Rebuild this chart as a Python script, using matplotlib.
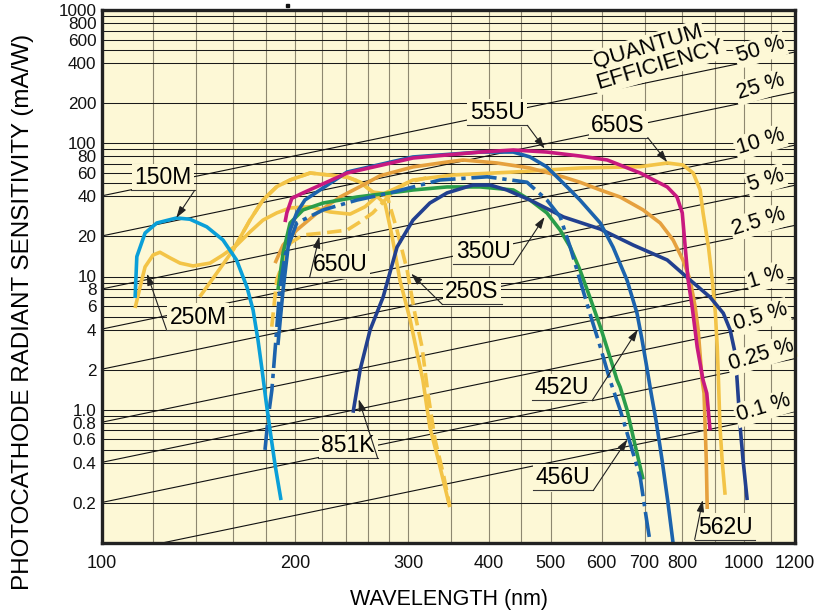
import matplotlib
matplotlib.use("Agg")
import matplotlib.pyplot as plt
from matplotlib.patches import Rectangle

plt.rcParams['font.family'] = ['Liberation Sans', 'DejaVu Sans']

BG = '#fdf8d6'

# ---- axis ticks / grid ----
x_ticks = [100, 200, 300, 400, 500, 600, 700, 800, 1000, 1200]
y_ticks = [1000, 800, 600, 400, 200, 100, 80, 60, 40, 20, 10, 8, 6, 4, 2,
           1, 0.8, 0.6, 0.4, 0.2]
y_tick_labels = ['1000', '800', '600', '400', '200', '100', '80', '60', '40',
                 '20', '10', '8', '6', '4', '2', '1.0', '0.8', '0.6', '0.4', '0.2']
x_grid = [120, 140, 160, 180, 200, 220, 240, 260, 280, 300, 350, 400, 450,
          500, 600, 700, 800, 900, 1000, 1100]
y_grid = [m * d for d in (0.1, 1, 10, 100) for m in (1, 2, 4, 5, 6, 7, 8, 9)] + [1000]

# ---- quantum-efficiency reference lines (percent) ----
qe_levels = [50, 25, 10, 5, 2.5, 1, 0.5, 0.25, 0.1]
qe_labels = ['50 %', '25 %', '10 %', '5 %', '2.5 %', '1 %', '0.5 %', '0.25 %', '0.1 %']

# ---- spectral response curves: wavelength (nm), sensitivity (mA/W) ----
wl_150M = [112.6, 113.3, 116.7, 121.7, 130.7, 137.1, 145.6, 154.3, 162.0, 168.2,
           171.9, 175.0, 177.5, 180.0, 182.7, 186.0, 190.0]
s_150M = [6.9, 14.1, 21.2, 25.2, 27.5, 26.9, 23.6, 18.8, 13.3, 8.3,
          5.6, 3.3, 2.0, 1.18, 0.70, 0.385, 0.21]

wl_250M = [112.6, 114.6, 116.7, 120.1, 123.1, 127.6, 132.3, 138.6, 147.3, 154.3,
           162.1, 170, 178.1, 187.1, 196.3, 210.9, 226.5, 243.4, 256.9, 268,
           276, 283, 291, 302, 309.5, 316, 324, 334, 348]
s_250M = [5.8, 8.3, 11.8, 14.5, 15.2, 13.8, 12.6, 12.0, 12.6, 14.5,
          17.2, 21.6, 26.5, 30, 32.7, 33.4, 30.5, 29.4, 33.4, 40,
          35, 20, 9.4, 4.7, 2.67, 1.67, 0.74, 0.42, 0.186]

wl_250S = [160, 170, 178.1, 187.1, 196.3, 210.9, 240.8, 252.3,
           264, 278, 288, 298.6, 307, 315, 322, 330, 340, 348]
s_250S = [15.8, 26.5, 37.5, 47.2, 53, 59.8, 55.8, 51.2,
          43, 40, 22.3, 11.2, 5.3, 2.96, 1.3, 0.6, 0.33, 0.19]

wl_650S = [142, 150.9, 160, 170, 178.1, 187.1, 196.3, 210.9, 240.8, 252.3,
           264, 275, 287, 305, 352, 437, 555, 689, 759, 803,
           833, 854, 863, 880, 892, 902, 908, 912, 917, 924, 934]
s_650S = [7.05, 10.6, 15.8, 26.5, 37.5, 47.2, 53, 59.8, 55.8, 51.2,
          43, 42, 46, 53, 57.8, 60.8, 65.2, 66.7, 71.1, 68.7,
          59.8, 44.6, 30, 16.6, 9.4, 5.3, 2.96, 1.67, 0.74, 0.42, 0.23]

wl_650U = [183.8, 187.1, 196.3, 205.6, 221, 240.8, 252, 264, 276, 286, 300, 320]
s_650U = [4.2, 9.4, 17.8, 20.5, 21.2, 22.3, 25.6, 30, 37.5, 44.6, 51, 55]

wl_555U = [192.8, 194, 197.5, 205.6, 240.8, 305, 388, 437, 493, 555,
           612, 689, 759, 786, 801, 809.5, 818, 830, 845, 863, 874.6, 885]
s_555U = [25.6, 30, 38.6, 42.4, 59.8, 77.5, 85.9, 89, 85.9, 80.2,
          74.9, 59.8, 47, 39.5, 30, 16.6, 9.4, 5.9, 2.96, 1.67, 1.33, 0.70]

wl_452U = [187.9, 191.4, 196.3, 201, 207, 240.8, 305, 388, 437, 464,
           493, 530, 555, 597, 625, 657, 681, 693, 704, 716, 730, 745, 760, 775]
s_452U = [3.06, 7.9, 22.3, 30, 37.5, 60.8, 78.9, 85.9, 85.9, 78.9,
          66.4, 47, 37.5, 25.2, 16.6, 9.4, 5.3, 3.4, 2.2, 1.35, 0.8, 0.42, 0.21, 0.1]

wl_456U = [179.4, 181.3, 183.9, 186.5, 189.1, 192.8, 201, 221, 249.6, 281,
           336, 398, 459, 493, 517, 536, 555, 575, 597, 618, 641, 664.5, 689, 701, 714]
s_456U = [0.5, 0.84, 1.41, 3.3, 7.9, 14.5, 25.2, 31.6, 37.5, 42.4,
          53, 56, 51, 37.5, 28, 16.6, 9.4, 5.3, 2.96, 1.67, 1.0, 0.56, 0.31, 0.177, 0.1]

wl_350U = [187.9, 191.4, 196.3, 205.6, 221, 249.6, 281, 305, 344.6, 388,
           437, 464, 493, 517, 536, 555, 575, 597, 618, 634, 641, 657, 672, 689, 696]
s_350U = [7.9, 15, 25.2, 31.6, 35.6, 39.5, 42.4, 44.6, 47, 47,
          44.6, 37.5, 30, 22.3, 16.6, 11.2, 7.0, 4.2, 2.49, 1.67, 1.48, 1.0, 0.62, 0.37, 0.30]

wl_851K = [246, 252.3, 261.5, 274, 288, 305, 324, 344.6, 378, 402,
           427, 464, 523, 597, 672, 759, 824, 885, 928, 951,
           968, 975, 986, 996, 1011]
s_851K = [0.95, 1.99, 3.97, 7.0, 16.6, 26.5, 35.6, 42.4, 48.6, 48.6,
          44.6, 37.5, 28, 22.7, 17.2, 13.3, 9.4, 7.0, 5.3, 3.97,
          2.67, 1.67, 0.74, 0.42, 0.21]

wl_562U = [186, 191.4, 201, 216.3, 234.8, 255, 271, 305, 344.6, 365,
           412, 464, 523, 555, 597, 641, 696, 740, 775, 803,
           824, 839, 848, 860, 866, 873, 876]
s_562U = [12.6, 17.2, 22.3, 30, 39.5, 48.6, 57, 66.4, 72.3, 74.9,
          71.1, 65.2, 55.8, 51, 44.6, 39.5, 31.6, 25.2, 18.8, 13.3,
          9.4, 5.9, 3.97, 1.67, 1.33, 0.42, 0.18]

YELLOW = '#f3c447'
ORANGE = '#e6a13e'
MAGENTA = '#c8197f'
BLUE = '#1c63ad'
NAVY = '#22408f'
GREEN = '#2a9d4a'
CYAN = '#0a9fd8'

DASHED = (4.0, 1.8)
DASHDOT = (7.0, 1.6, 1.2, 1.6)

curves = [
    (wl_250M, s_250M, YELLOW, None),
    (wl_650S, s_650S, YELLOW, None),
    (wl_250S, s_250S, YELLOW, DASHED),
    (wl_650U, s_650U, YELLOW, DASHED),
    (wl_562U, s_562U, ORANGE, None),
    (wl_350U, s_350U, GREEN, None),
    (wl_851K, s_851K, NAVY, None),
    (wl_452U, s_452U, BLUE, None),
    (wl_456U, s_456U, BLUE, DASHDOT),
    (wl_555U, s_555U, MAGENTA, None),
    (wl_150M, s_150M, CYAN, None),
]

# label text, text centre (axes fraction), arrow tip (nm, mA/W), leader side
curve_labels = [
    ('150M', (0.088, 0.685), (130.5, 27.5), 'right'),
    ('250M', (0.1385, 0.424), (117.5, 10.5), 'left'),
    ('650U', (0.3434, 0.5216), (218, 20.0), 'left'),
    ('555U', (0.570, 0.807), (489, 91), 'right'),
    ('650S', (0.7446, 0.784), (759, 72), 'right'),
    ('350U', (0.5498, 0.546), (489, 28), 'right'),
    ('250S', (0.534, 0.471), (303, 10.5), 'left'),
    ('452U', (0.6638, 0.291), (683, 4.0), 'right'),
    ('456U', (0.6652, 0.122), (658, 0.6), 'right'),
    ('562U', (0.899, 0.030), (862, 0.21), 'left'),
    ('851K', (0.355, 0.182), (251, 1.2), 'right'),
]

# QE label centres (axes fraction)
qe_label_pos = [(0.9500, 0.925), (0.9500, 0.8555), (0.9500, 0.7523),
                (0.958, 0.681), (0.9475, 0.6023), (0.958, 0.499),
                (0.950, 0.424), (0.951, 0.3527), (0.9545, 0.2533)]

fig = plt.figure(figsize=(8.17, 6.15), dpi=100)
ax = fig.add_axes([102 / 817, 1 - 543 / 615, 693 / 817, 533 / 615])
ax.set_facecolor(BG)
ax.set_xscale('log')
ax.set_yscale('log')
ax.set_xlim(100, 1200)
ax.set_ylim(0.1, 1000)

for xv in x_grid:
    ax.axvline(xv, color='#8e8870', lw=0.8, zorder=0.5)
for yv in y_grid:
    ax.axhline(yv, color='#1a1a1a', lw=0.75, zorder=0.5)

wl_line = [100, 1200]
for q in qe_levels:
    ax.plot(wl_line, [q / 100 * w / 1239.84 * 1000 for w in wl_line],
            color='#111111', lw=0.8, zorder=1)

for wl, s, col, dash in curves:
    line, = ax.plot(wl, s, color=col, lw=2.6, zorder=3,
                    solid_joinstyle='round', solid_capstyle='butt')
    if dash is not None:
        line.set_dashes(dash)

ax.set_xticks(x_ticks)
ax.set_xticklabels([str(v) for v in x_ticks])
ax.set_yticks(y_ticks)
ax.set_yticklabels(y_tick_labels)
ax.minorticks_off()
ax.tick_params(axis='both', length=0, labelsize=13, colors='#111111')
ax.tick_params(axis='y', labelsize=12.3, pad=4)
ax.tick_params(axis='x', pad=9)
for sp in ax.spines.values():
    sp.set_linewidth(2.4)
    sp.set_color('#222222')
    sp.set_zorder(10)

ax.set_xlabel('WAVELENGTH (nm)', fontsize=15.5, labelpad=12)
fig.text(0.028, 0.492, 'PHOTOCATHODE RADIANT SENSITIVITY (mA/W)', rotation=90,
         fontsize=17.4, ha='center', va='center')

box = dict(boxstyle='square,pad=0.12', fc=BG, ec='none')

texts = []
for name, pos, tip, side in curve_labels:
    t = ax.text(pos[0], pos[1], name, transform=ax.transAxes, fontsize=16.5,
                ha='center', va='center', bbox=box, zorder=6)
    texts.append((t, tip, side))

qe_box = dict(boxstyle='square,pad=0.08', fc=BG, ec='none')
for lab, pos in zip(qe_labels, qe_label_pos):
    ax.text(pos[0], pos[1], lab, transform=ax.transAxes, fontsize=15.5,
            rotation=17, rotation_mode='anchor', ha='center', va='center',
            bbox=qe_box, zorder=6)
ax.text(0.788, 0.9306, 'QUANTUM', transform=ax.transAxes, fontsize=16,
        rotation=16.5, rotation_mode='anchor', ha='center', va='center',
        bbox=qe_box, zorder=6)
ax.text(0.805, 0.8968, 'EFFICIENCY', transform=ax.transAxes, fontsize=16,
        rotation=16.5, rotation_mode='anchor', ha='center', va='center',
        bbox=qe_box, zorder=6)

# underline each curve label and run a leader to its curve
fig.canvas.draw()
renderer = fig.canvas.get_renderer()
inv = ax.transAxes.inverted()
for t, tip, side in texts:
    bb = t.get_window_extent(renderer)
    (x0, y0) = inv.transform((bb.x0 - 3, bb.y0 - 1))
    (x1, _) = inv.transform((bb.x1 + 3, bb.y0 - 1))
    ax.plot([x0, x1], [y0, y0], transform=ax.transAxes, color='#3a3a3a',
            lw=0.8, zorder=6, clip_on=False)
    start = (x1, y0) if side == 'right' else (x0, y0)
    ax.annotate('', xy=tip, xycoords='data', xytext=start,
                textcoords='axes fraction', zorder=7,
                arrowprops=dict(arrowstyle='-|>,head_length=0.7,head_width=0.22',
                                color='#222222', lw=0.8, shrinkA=0, shrinkB=0))

fig.patches.append(Rectangle((286 / 817, 1 - 7 / 615), 3 / 817, 3 / 615,
                             transform=fig.transFigure, color='#111111'))

fig.savefig('out.png', dpi=100, facecolor='white')
